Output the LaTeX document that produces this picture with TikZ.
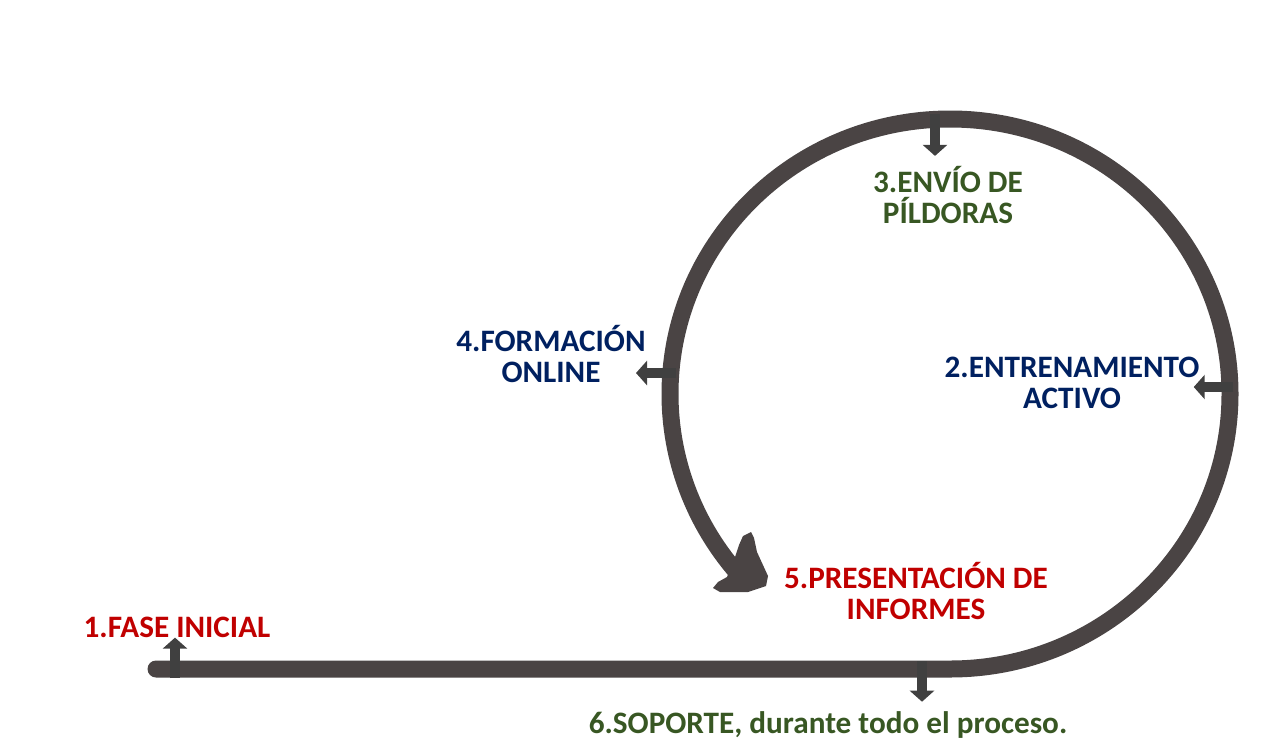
\documentclass[tikz,border=0pt]{standalone}
\usepackage{fontspec}
\setmainfont{Carlito}
\usetikzlibrary{arrows.meta,positioning,calc}

\definecolor{rojo}{RGB}{192,0,0}
\definecolor{azul}{RGB}{0,32,96}
\definecolor{verde}{RGB}{56,87,35}
\definecolor{trazo}{RGB}{74,68,68}
\definecolor{flecha}{RGB}{64,64,64}

\begin{document}
\begin{tikzpicture}[x=0.5pt, y=-0.5pt,
	etiqueta/.style={font=\fontsize{15.6}{15.5}\selectfont\bfseries, align=center, inner sep=0pt},
	espiral/.style={draw=trazo, line width=8.5pt, line cap=round},
	marca/.style={draw=flecha, line width=5pt, -{Triangle[width=12pt, length=5.5pt]}}]
	
	\useasboundingbox (0,0) rectangle (1264,740);
	
	% espiral
	\draw [espiral] (156,669) -- (950,669)
	arc [start angle=90, end angle=-220, x radius=280, y radius=275] coordinate (fin);
	\fill [trazo] (734,560) -- (739,545) -- (743,536) -- (751,532) -- (754,538) -- (757,552)
	-- (768,576) -- (766,586) -- (748,592) -- (720,592) -- (713,588) -- (718,582) -- (727,577) -- cycle;
	
	% etiquetas
	\node [etiqueta, text=rojo, anchor=base] (fase) at (177,637) {1.FASE INICIAL};
	\node [etiqueta, text=azul] (entrena) at (1072,383) {2.ENTRENAMIENTO\\ACTIVO};
	\node [etiqueta, text=verde] (envio) at (948,195) {3.ENVÍO DE\\PÍLDORAS};
	\node [etiqueta, text=azul] (formacion) at (551,354) {4.FORMACIÓN\\ONLINE};
	\node [etiqueta, text=rojo] (informes) at (916,591) {5.PRESENTACIÓN DE\\INFORMES};
	\node [etiqueta, text=verde, anchor=base] (soporte) at (828,733) {6.SOPORTE, durante todo el proceso.};
	
	% puntos sobre la espiral
	\coordinate (p1) at (175,678);
	\coordinate (p2) at (1233,387);
	\coordinate (p3) at (935,114);
	\coordinate (p4) at (676,373);
	\coordinate (p5) at (922,661);
	
	\draw [marca] (p1) -- (p1 |- fase.south);
	\draw [marca, shorten >=-3pt] (p2) -- (p2 -| entrena.east);
	\draw [marca, shorten >=5pt] (p3) -- (p3 |- envio.north);
	\draw [marca, shorten >=-5pt] (p4) -- (p4 -| formacion.east);
	\draw [marca, shorten >=4.5pt] (p5) -- (p5 |- soporte.north);
	
\end{tikzpicture}
\end{document}
